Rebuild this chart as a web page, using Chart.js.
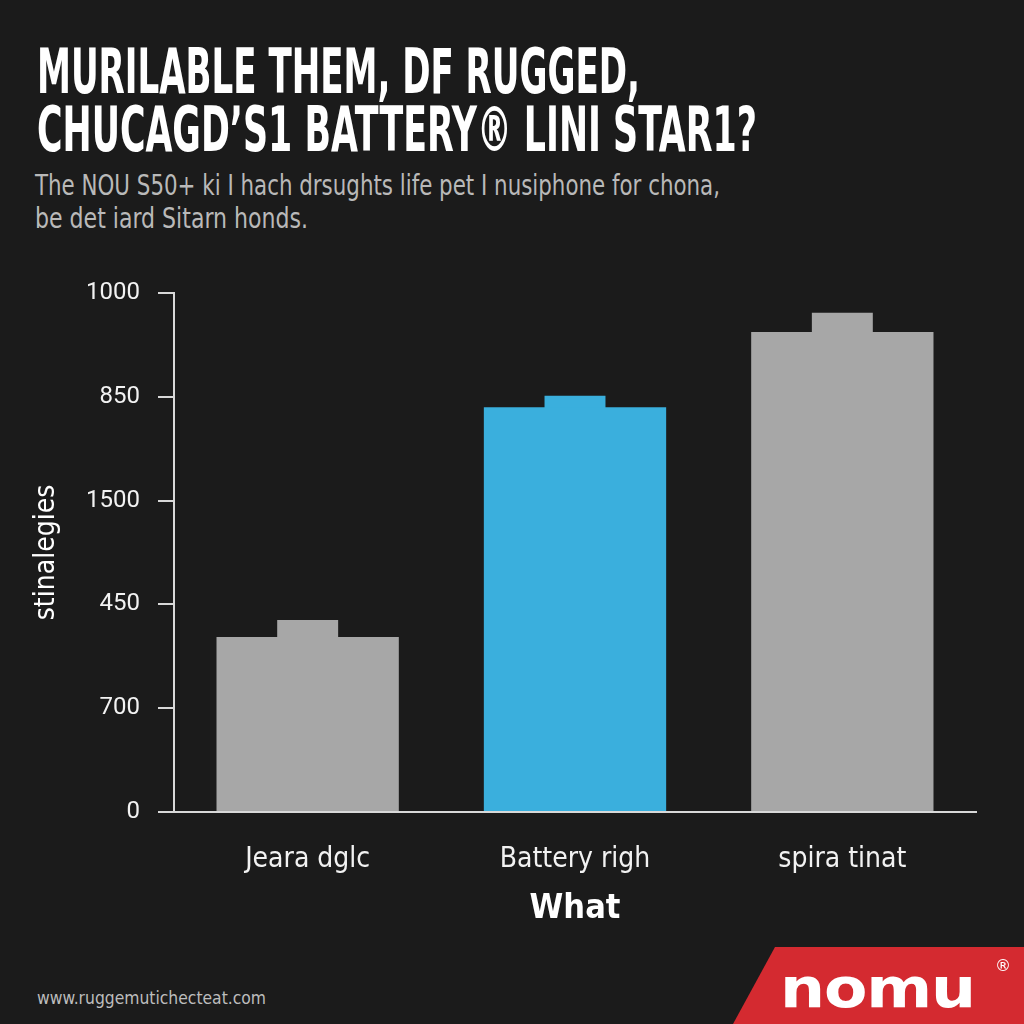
<!DOCTYPE html>
<html>
<head>
<meta charset="utf-8">
<script src="https://cdn.jsdelivr.net/npm/chart.js@4"></script>
<style>
html, body { margin: 0; padding: 0; width: 1024px; height: 1024px; overflow: hidden; background: #1b1b1b; }
.txt { position: absolute; white-space: nowrap; transform-origin: 0 0; line-height: 1; }
#t1, #t2 { left: 37px; color: #fff; font: bold 62px "Liberation Sans Narrow", "DejaVu Sans Condensed", sans-serif; font-stretch: condensed; }
#t1 { top: 35px; }
#t2 { top: 93px; }
#s1, #s2 { left: 35px; color: #b9b9b9; font: 28px "Liberation Sans Narrow", "DejaVu Sans Condensed", sans-serif; font-stretch: condensed; }
#s1 { top: 169px; }
#s2 { top: 202px; }
#url { left: 37px; top: 987px; color: #bdbdbd; font: 18px "Liberation Sans Narrow", "DejaVu Sans Condensed", sans-serif; }
#logo { position: absolute; left: 733px; top: 947px; width: 291px; height: 77px; background: #d42a30;
        clip-path: polygon(42px 0, 100% 0, 100% 100%, 0 100%); }
#nomu { left: 780px; top: 955px; color: #fff; font: bold 56px "DejaVu Sans", sans-serif; letter-spacing: -1px; }
#reg { left: 995px; top: 956px; color: #fff; font: 16px "DejaVu Sans", sans-serif; }
#wrap { position: absolute; left: 0; top: 250px; width: 1024px; height: 700px; }
</style>
</head>
<body>
<div class="txt" id="t1" data-w="603">MURILABLE THEM, DF RUGGED,</div>
<div class="txt" id="t2" data-w="720">CHUCAGD’S1 BATTERY® LINI STAR1?</div>
<div class="txt" id="s1" data-w="685">The NOU S50+ ki I hach drsughts life pet I nusiphone for chona,</div>
<div class="txt" id="s2" data-w="273">be det iard Sitarn honds.</div>
<div id="wrap"><canvas id="barChart" width="1024" height="700"></canvas></div>
<div class="txt" id="url" data-w="229">www.ruggemutichecteat.com</div>
<div id="logo"></div>
<div class="txt" id="nomu" data-w="195">nomu</div>
<div class="txt" id="reg">®</div>

<script>
// dados
const categorias = ['Jeara dglc', 'Battery righ', 'spira tinat'];
const valoresCorpo = [337, 780, 925];
const valoresTopo = [370, 802, 962];
const coresBarras = ['#a7a7a7', '#3aafdd', '#a7a7a7'];
const yTickLabels = ['0', '700', '450', '1500', '850', '1000'];
const tituloY = 'stinalegies';
const tituloX = 'What';

// ajusta largura dos textos do cabecalho
document.querySelectorAll('.txt[data-w]').forEach(el => {
    let w = el.getBoundingClientRect().width;
    el.style.transform = 'scaleX(' + (Number(el.dataset.w) / w) + ')';
});

const fonteEixo = '"Liberation Sans Narrow", "DejaVu Sans Condensed", sans-serif';
const corEixo = '#d8d8d8';

let barChart = new Chart(document.getElementById('barChart').getContext('2d'), {
    type: 'bar',
    data: {
        labels: categorias,
        datasets: [
            {
                data: valoresCorpo,
                backgroundColor: coresBarras,
                barPercentage: 0.682,
                categoryPercentage: 1,
                grouped: false,
                order: 0
            },
            {
                // "polo" da bateria, atras do corpo
                data: valoresTopo,
                backgroundColor: coresBarras,
                barPercentage: 0.228,
                categoryPercentage: 1,
                grouped: false,
                order: 1
            }
        ]
    },
    options: {
        responsive: false,
        animation: false,
        layout: { padding: { top: 43, right: 48, bottom: 0, left: 0 } },
        plugins: { legend: { display: false }, tooltip: { enabled: false } },
        scales: {
            x: {
                afterFit: s => { s.height = 138; },
                grid: { display: false, drawTicks: false },
                border: { color: corEixo, width: 2 },
                ticks: { color: '#f2f2f2', padding: 31, font: { family: fonteEixo, size: 28 } },
                title: { display: true, text: tituloX, color: '#fff', padding: { top: 0, bottom: 20 },
                         font: { family: fonteEixo, size: 34, weight: 'bold' } }
            },
            y: {
                min: 0,
                max: 1000,
                afterFit: s => { s.width = 174; },
                grid: { drawOnChartArea: false, drawTicks: true, tickLength: 16, color: corEixo, lineWidth: 2 },
                border: { color: corEixo, width: 2 },
                ticks: {
                    stepSize: 200,
                    color: '#f2f2f2',
                    padding: 18,
                    font: { family: 'Roboto', size: 24 },
                    callback: (v, i) => yTickLabels[i]
                },
                title: { display: true, text: tituloY, color: '#fff', padding: { top: 30, bottom: 0 },
                         font: { family: fonteEixo, size: 28 } }
            }
        }
    }
});
</script>
</body>
</html>
